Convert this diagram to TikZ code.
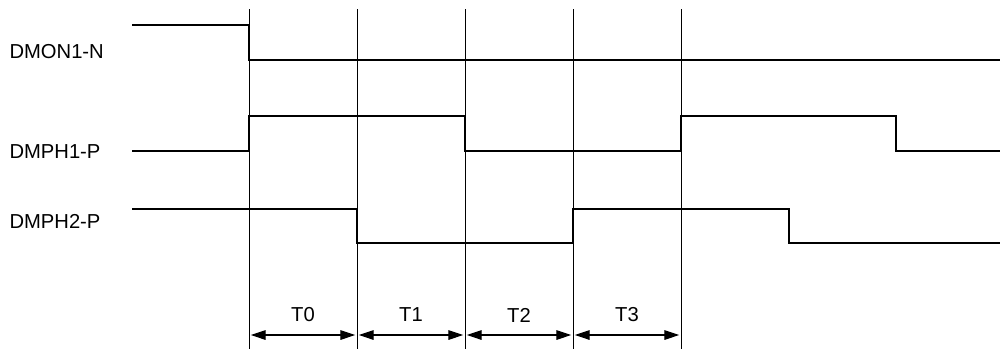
\documentclass[tikz,border=0pt]{standalone}
\usepackage{fontspec}
\setmainfont{Liberation Sans}
\usetikzlibrary{arrows.meta,calc}
\tikzset{every picture/.style={line width=0.6pt}}
\tikzset{
    signal/.style={line width=1.5pt,line join=miter},
    timeline/.style={line width=0.5pt},
    span/.style={{Triangle[length=8.5pt,width=5.5pt]}-{Triangle[length=8.5pt,width=5.5pt]},line width=0.6pt},
    siglabel/.style={anchor=west,inner sep=0pt,font=\fontsize{11.5}{13}\selectfont},
    tlabel/.style={inner sep=0pt,font=\fontsize{11.5}{13}\selectfont}
}

\begin{document}
\begin{tikzpicture}[x=0.02cm,y=-0.02cm]
    \useasboundingbox (0,0) rectangle (1000,349);

    % Time marks
    \foreach \x [count=\i from 0] in {249,357,465,573,681} {
        \draw[timeline] (\x,9) -- (\x,349);
        \coordinate (m\i) at (\x,335);
    }

    % DMON1-N
    \node[siglabel] (lon) at (9,52) {DMON1-N};
    \draw[signal] (132,25) -- (249,25) -- (249,60) -- (1000,60);

    % DMPH1-P
    \node[siglabel] (lph1) at (9,152) {DMPH1-P};
    \draw[signal] (132,151) -- (249,151) -- (249,116) -- (465,116) -- (465,151)
        -- (681,151) -- (681,116) -- (896,116) -- (896,151) -- (1000,151);

    % DMPH2-P
    \node[siglabel] (lph2) at (9,221) {DMPH2-P};
    \draw[signal] (132,209) -- (357,209) -- (357,243) -- (573,243) -- (573,209)
        -- (789,209) -- (789,243) -- (1000,243);

    % Periods
    \foreach \a/\b [count=\i from 0] in {m0/m1,m1/m2,m2/m3,m3/m4} {
        \draw[span] ([xshift=1]\a) -- ([xshift=-1]\b);
        \node[tlabel] (t\i) at ($(\a)!0.5!(\b)+(0,-20)$) {T\i};
    }
\end{tikzpicture}
\end{document}
